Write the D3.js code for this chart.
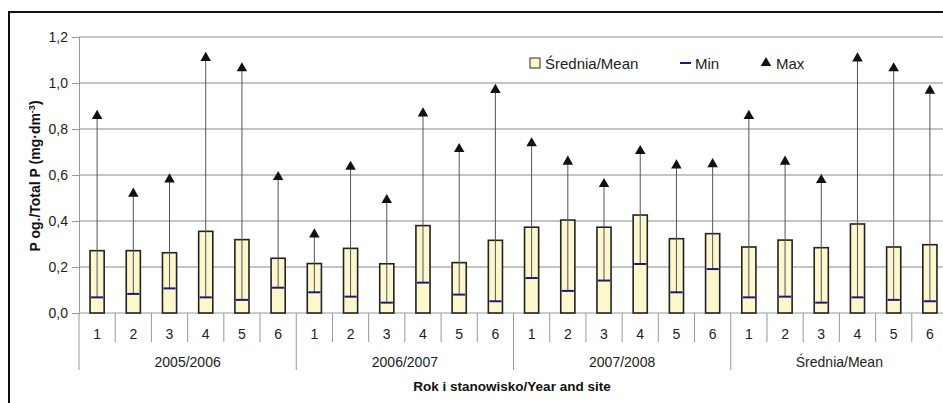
<!DOCTYPE html>
<html>
<head>
<meta charset="utf-8">
<script src="https://cdn.jsdelivr.net/npm/d3@7"></script>
<style>
  body { margin: 0; background: #fff; }
  svg { display: block; font-family: "Liberation Sans", Arial, sans-serif; }
</style>
</head>
<body>
<div id="chart"></div>
<script>
// data
const years = ["2005/2006", "2006/2007", "2007/2008", "Średnia/Mean"];
const sites = ["1", "2", "3", "4", "5", "6"];
const meanVals = [0.271, 0.271, 0.262, 0.355, 0.319, 0.238,
                  0.215, 0.281, 0.214, 0.380, 0.219, 0.316,
                  0.373, 0.404, 0.373, 0.426, 0.323, 0.345,
                  0.287, 0.317, 0.284, 0.387, 0.287, 0.297];
const minVals = [0.068, 0.083, 0.107, 0.068, 0.057, 0.110,
                 0.090, 0.071, 0.045, 0.132, 0.080, 0.051,
                 0.152, 0.096, 0.141, 0.213, 0.090, 0.191,
                 0.068, 0.071, 0.045, 0.068, 0.057, 0.051];
const maxVals = [0.857, 0.519, 0.581, 1.109, 1.064, 0.591,
                 0.342, 0.636, 0.491, 0.868, 0.713, 0.970,
                 0.738, 0.658, 0.561, 0.704, 0.642, 0.647,
                 0.857, 0.658, 0.578, 1.107, 1.064, 0.967];
const yTicks = [0, 0.2, 0.4, 0.6, 0.8, 1.0, 1.2];

const data = [];
years.forEach((yr, gi) => {
  sites.forEach((s, si) => {
    const i = gi * sites.length + si;
    data.push({key: yr + "|" + s, year: yr, site: s, mean: meanVals[i], min: minVals[i], max: maxVals[i]});
  });
});

var width = 943, height = 403;
const svg = d3.select("#chart").append("svg")
  .attr("width", width)
  .attr("height", height);

// outer frame (runs off the right and bottom edges like the scan)
svg.append("rect")
  .attr("x", 9).attr("y", 12)
  .attr("width", 960).attr("height", 420)
  .attr("fill", "none")
  .attr("stroke", "#111")
  .attr("stroke-width", 2);

const plotLeft = 79, plotRight = 948, plotTop = 37, plotBottom = 313;

const x = d3.scaleBand().domain(data.map(d => d.key)).range([plotLeft, plotRight]).padding(0);
const y = d3.scaleLinear().domain([0, 1.2]).range([plotBottom, plotTop]);
const bw = x.bandwidth() * 0.39;
const cx = d => x(d.key) + x.bandwidth() / 2;

// grid
svg.append("g").selectAll("line").data(yTicks.slice(1)).enter()
  .append("line")
  .attr("x1", plotLeft).attr("x2", plotRight)
  .attr("y1", d => y(d)).attr("y2", d => y(d))
  .attr("stroke", "#8a8a8a").attr("stroke-width", 1);

// y axis
const yAxis = svg.append("g")
  .attr("transform", "translate(" + plotLeft + ",0)")
  .call(d3.axisLeft(y).tickValues(yTicks).tickSize(7).tickPadding(4)
    .tickFormat(d => d3.format(".1f")(d).replace(".", ",")));
yAxis.select(".domain").attr("stroke", "#999");
yAxis.selectAll(".tick line").attr("stroke", "#999");
yAxis.selectAll("text").attr("font-size", 14).attr("fill", "#222")
  .attr("font-family", "Liberation Sans, Arial, sans-serif");

// x axis line
svg.append("line")
  .attr("x1", plotLeft).attr("x2", plotRight)
  .attr("y1", plotBottom).attr("y2", plotBottom)
  .attr("stroke", "#999").attr("stroke-width", 1.2);

// site separators and group separators
svg.append("g").selectAll("line").data(data).enter()
  .append("line")
  .attr("x1", d => x(d.key)).attr("x2", d => x(d.key))
  .attr("y1", plotBottom)
  .attr("y2", d => d.site === "1" ? 370 : 342)
  .attr("stroke", "#999").attr("stroke-width", 1);

svg.append("g").selectAll("text").data(data).enter()
  .append("text")
  .attr("x", cx).attr("y", 339)
  .attr("text-anchor", "middle")
  .attr("font-size", 14).attr("fill", "#222")
  .text(d => d.site);

const groupW = x.bandwidth() * sites.length;
svg.append("g").selectAll("text").data(years).enter()
  .append("text")
  .attr("x", (d, i) => plotLeft + groupW * (i + 0.5))
  .attr("y", 367)
  .attr("text-anchor", "middle")
  .attr("font-size", 14).attr("fill", "#222")
  .text(d => d);

// axis titles
svg.append("text")
  .attr("x", 512).attr("y", 391)
  .attr("text-anchor", "middle")
  .attr("font-size", 13.5).attr("font-weight", "bold").attr("fill", "#111")
  .text("Rok i stanowisko/Year and site");

const yt = svg.append("text")
  .attr("transform", "translate(40,176) rotate(-90)")
  .attr("text-anchor", "middle")
  .attr("font-size", 14).attr("font-weight", "bold").attr("fill", "#111");
yt.append("tspan").text("P og./Total P (mg·dm");
yt.append("tspan").attr("dy", -5).attr("font-size", 9).text("-3");
yt.append("tspan").attr("dy", 5).text(")");

// bars
svg.append("g").selectAll("rect").data(data).enter()
  .append("rect")
  .attr("x", d => cx(d) - bw / 2)
  .attr("y", d => y(d.mean))
  .attr("width", bw)
  .attr("height", d => y(0) - y(d.mean))
  .attr("fill", "#fcf7cd")
  .attr("stroke", "#222")
  .attr("stroke-width", 1.6);

// whiskers min -> max
svg.append("g").selectAll("line").data(data).enter()
  .append("line")
  .attr("x1", cx).attr("x2", cx)
  .attr("y1", d => y(d.min)).attr("y2", d => y(d.max))
  .attr("stroke", "#555").attr("stroke-width", 1);

// min dashes
svg.append("g").selectAll("line").data(data).enter()
  .append("line")
  .attr("x1", d => cx(d) - bw / 2 + 1).attr("x2", d => cx(d) + bw / 2 - 1)
  .attr("y1", d => y(d.min)).attr("y2", d => y(d.min))
  .attr("stroke", "#1e1a78").attr("stroke-width", 2);

// max triangles
const tri = d3.symbol().type(d3.symbolTriangle).size(48);
svg.append("g").selectAll("path").data(data).enter()
  .append("path")
  .attr("d", tri)
  .attr("transform", d => "translate(" + cx(d) + "," + y(d.max) + ")")
  .attr("fill", "#111");

// legend
const lg = svg.append("g").attr("font-size", 15).attr("fill", "#222");
lg.append("rect")
  .attr("x", 530).attr("y", 58).attr("width", 10).attr("height", 10)
  .attr("fill", "#fcf7cd").attr("stroke", "#2a2a2a").attr("stroke-width", 1);
lg.append("text").attr("x", 545).attr("y", 68.5).text("Średnia/Mean");
lg.append("line")
  .attr("x1", 680).attr("x2", 691).attr("y1", 63).attr("y2", 63)
  .attr("stroke", "#1e1a78").attr("stroke-width", 2);
lg.append("text").attr("x", 695).attr("y", 68.5).text("Min");
lg.append("path").attr("d", tri)
  .attr("transform", "translate(766,63)").attr("fill", "#111");
lg.append("text").attr("x", 776).attr("y", 68.5).text("Max");
</script>
</body>
</html>
